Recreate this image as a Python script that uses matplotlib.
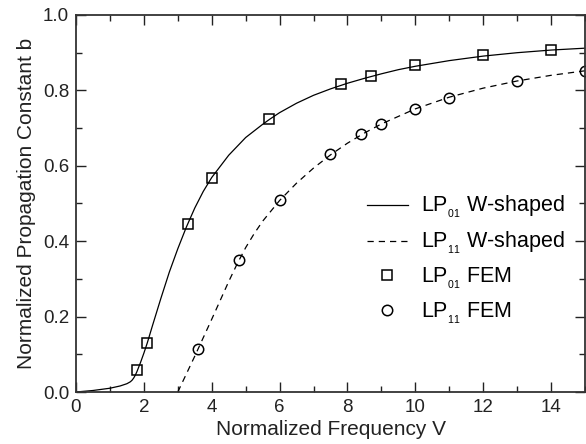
import matplotlib
matplotlib.use('Agg')
import matplotlib.pyplot as plt
from matplotlib.ticker import MultipleLocator

plt.rcParams['font.family'] = ['Liberation Sans', 'DejaVu Sans']
plt.rcParams['mathtext.fontset'] = 'custom'
plt.rcParams['mathtext.rm'] = 'Liberation Sans'
plt.rcParams['mathtext.it'] = 'Liberation Sans'

# W-shaped (analytic) curves
v_lp01 = [0, 0.5, 1.0, 1.3, 1.5, 1.6, 1.65, 1.7, 1.75, 1.8, 1.9, 2.0, 2.1, 2.25, 2.5, 2.75,
          3.0, 3.25, 3.5, 3.75, 4.0, 4.5, 5.0, 5.5, 5.7, 6.0, 6.5, 7.0, 7.5, 8.0, 8.5, 9.0,
          9.5, 10, 11, 12, 13, 14, 15]
b_lp01 = [0, 0.004, 0.010, 0.016, 0.022, 0.027, 0.031, 0.037, 0.045, 0.055, 0.078, 0.103,
          0.130, 0.175, 0.248, 0.318, 0.380, 0.437, 0.488, 0.532, 0.569, 0.628, 0.675, 0.710,
          0.723, 0.741, 0.766, 0.787, 0.804, 0.819, 0.832, 0.844, 0.855, 0.864, 0.879, 0.891,
          0.900, 0.907, 0.912]

v_lp11 = [3.0, 3.5, 4.0, 4.5, 4.75, 5.0, 5.25, 5.5, 6.0, 6.5, 7.0, 7.5, 8.0, 8.5, 9.0, 10,
          11, 12, 13, 14, 15]
b_lp11 = [0.0, 0.095, 0.193, 0.293, 0.340, 0.383, 0.420, 0.453, 0.508, 0.554, 0.594, 0.629,
          0.660, 0.687, 0.711, 0.751, 0.782, 0.806, 0.825, 0.840, 0.852]

# FEM results
v_fem01 = [1.8, 2.1, 3.3, 4.0, 5.7, 7.8, 8.7, 10, 12, 14]
b_fem01 = [0.058, 0.129, 0.445, 0.567, 0.723, 0.816, 0.838, 0.867, 0.894, 0.907]

v_fem11 = [3.6, 4.8, 6.0, 7.5, 8.4, 9.0, 10, 11, 13, 15]
b_fem11 = [0.113, 0.349, 0.509, 0.631, 0.684, 0.711, 0.751, 0.781, 0.825, 0.852]

fig = plt.figure(figsize=(5.86, 4.44), dpi=100)
ax = fig.add_axes([76 / 586, 1 - 392 / 444, 509 / 586, 377 / 444])

ax.plot(v_lp01, b_lp01, color='black', lw=0.9, label=r'LP$_{_{01}}$ W-shaped')
ax.plot(v_lp11, b_lp11, color='black', lw=0.9, dashes=(5, 4), label=r'LP$_{_{11}}$ W-shaped')
ax.plot(v_fem01, b_fem01, ls='none', marker='s', ms=7.5, mfc='none', mec='black', mew=1.1,
        label=r'LP$_{_{01}}$ FEM')
ax.plot(v_fem11, b_fem11, ls='none', marker='o', ms=7.5, mfc='none', mec='black', mew=1.1,
        label=r'LP$_{_{11}}$ FEM')

ax.set_xlim(0, 15)
ax.set_ylim(0, 1.0)
ax.xaxis.set_major_locator(MultipleLocator(2))
ax.xaxis.set_minor_locator(MultipleLocator(1))
ax.yaxis.set_major_locator(MultipleLocator(0.2))
ax.yaxis.set_minor_locator(MultipleLocator(0.1))
ax.yaxis.set_major_formatter(plt.FormatStrFormatter('%.1f'))
ax.tick_params(which='both', direction='in', top=True, right=True, labelsize=13.5,
               colors='#222222', width=1.0)
ax.tick_params(which='major', length=7, pad=5)
ax.tick_params(which='minor', length=4)
for s in ax.spines.values():
    s.set_linewidth(1.3)
    s.set_color('#333333')

ax.set_xlabel('Normalized Frequency V', fontsize=15, color='#222222', labelpad=3)
ax.set_ylabel('Normalized Propagation Constant b', fontsize=15, color='#222222', labelpad=5)

ax.legend(loc='center right', bbox_to_anchor=(1.0, 0.35), frameon=False, fontsize=15.5,
          handlelength=1.9, handletextpad=0.6, labelspacing=0.45, borderaxespad=0.55)

fig.savefig('out.png', dpi=100)
